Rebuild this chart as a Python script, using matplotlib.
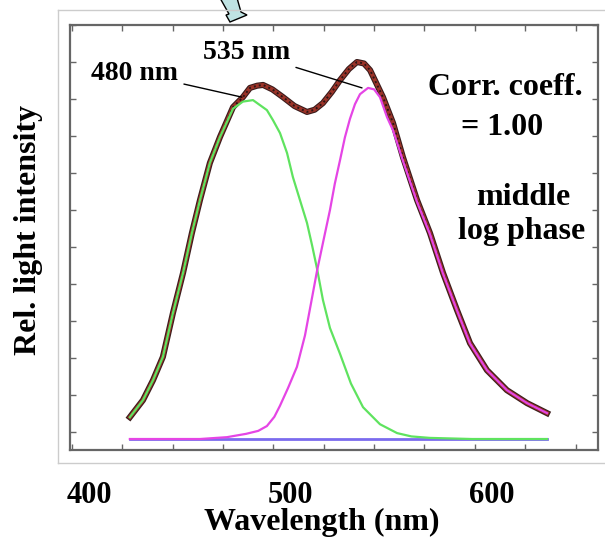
import matplotlib
matplotlib.use("Agg")
import matplotlib.pyplot as plt
import matplotlib.patheffects as pe
from matplotlib.ticker import MultipleLocator, NullFormatter
from matplotlib.patches import Polygon
from matplotlib.lines import Line2D

plt.rcParams['font.family'] = ['Liberation Serif', 'DejaVu Serif']
plt.rcParams['font.weight'] = 'bold'

# measured spectrum (nm, relative intensity)
wl_meas = [420.3, 426.8, 431.8, 436.7, 441.7, 446.7, 451.1, 455.1, 460.0, 465.0,
           471.5, 476.4, 479.9, 483.5, 486.4, 491.0, 496.3, 502.0, 508.2, 512.0,
           516.1, 520.5, 524.6, 529.0, 533.0, 536.5, 539.5, 545.9, 550.9, 555.8,
           562.8, 569.2, 575.7, 582.6, 589.1, 597.5, 607.4, 617.4, 627.3]
meas = [0.059, 0.105, 0.159, 0.222, 0.341, 0.449, 0.557, 0.646, 0.746, 0.816,
        0.897, 0.924, 0.949, 0.955, 0.957, 0.945, 0.924, 0.900, 0.884, 0.890,
        0.908, 0.938, 0.970, 1.000, 1.019, 1.015, 0.997, 0.924, 0.854, 0.762,
        0.646, 0.557, 0.449, 0.349, 0.259, 0.186, 0.132, 0.097, 0.070]

# component peaking at 480 nm
wl_green = [420.3, 426.8, 431.8, 436.7, 441.7, 446.7, 451.1, 455.1, 460.0, 465.0,
            471.5, 476.4, 481.4, 488.3, 491.3, 494.8, 498.3, 501.2, 504.7, 508.2,
            510.7, 513.2, 516.1, 519.6, 524.6, 530.0, 536.0, 544.4, 552.9, 560.0,
            569.2, 590.0, 627.3]
green = [0.059, 0.105, 0.159, 0.222, 0.341, 0.449, 0.557, 0.646, 0.746, 0.816,
         0.893, 0.912, 0.916, 0.889, 0.862, 0.827, 0.773, 0.708, 0.646, 0.584,
         0.524, 0.460, 0.376, 0.300, 0.230, 0.150, 0.086, 0.040, 0.016, 0.007,
         0.003, 0.0, 0.0]

# component peaking at 535 nm
wl_mag = [420.3, 455.1, 468.5, 478.0, 484.0, 488.3, 492.0, 494.8, 498.8, 503.2,
          507.2, 510.5, 513.2, 516.5, 519.6, 522.0, 524.6, 527.0, 529.5, 532.0,
          534.5, 538.5, 541.5, 544.4, 547.9, 550.9, 555.8, 562.8, 569.2, 575.7,
          582.6, 589.1, 597.5, 607.4, 617.4, 627.3]
magenta = [0.0, 0.0, 0.005, 0.014, 0.022, 0.035, 0.060, 0.090, 0.138, 0.195,
           0.280, 0.376, 0.455, 0.540, 0.619, 0.690, 0.754, 0.815, 0.865, 0.905,
           0.932, 0.949, 0.945, 0.924, 0.870, 0.834, 0.752, 0.641, 0.554, 0.447,
           0.348, 0.258, 0.186, 0.132, 0.097, 0.070]

# flat background level
wl_base = [420.3, 627.3]
base = [0.0, 0.0]

fig = plt.figure(figsize=(6.05, 5.4), dpi=100)
W, H = 605, 540

# edges of the pasted figure
for xs, ys in [([58, 605], [10, 10]), ([58, 605], [463, 463]), ([58, 58], [10, 463])]:
    fig.add_artist(Line2D([x / W for x in xs], [1 - y / H for y in ys],
                          color='#cccccc', lw=1))

ax = fig.add_axes([70 / W, 90 / H, 528 / W, 425 / H])

ax.plot(wl_base, base, color='#7b6bee', lw=2, zorder=2)
ax.plot(wl_meas, meas, color='#9c3328', lw=2.8, zorder=3,
        path_effects=[pe.Stroke(linewidth=4.4, foreground='#3a1c1c'), pe.Normal()])
ax.plot(wl_meas, meas, color='#2b1616', lw=1.4, ls=(0, (1, 1.6)), zorder=3.1)
ax.plot(wl_green, green, color='#5fe35f', lw=1.6, zorder=4)
ax.plot(wl_mag, magenta, color='#e545e5', lw=1.6, zorder=4)

ax.set_xlim(390.6, 652.6)
ax.set_ylim(-0.0297, 1.119)

ax.xaxis.set_major_locator(MultipleLocator(100))
ax.xaxis.set_minor_locator(MultipleLocator(25, offset=16.5))
ax.yaxis.set_major_locator(MultipleLocator(0.1, offset=0.019))
ax.yaxis.set_major_formatter(NullFormatter())
ax.tick_params(axis='x', which='major', length=0, pad=22, labelsize=22)
ax.tick_params(which='both', direction='in', top=True, right=True,
               color='#666666', width=1)
ax.tick_params(axis='y', length=4)
ax.tick_params(axis='x', which='minor', length=4)
for s in ax.spines.values():
    s.set_color('#666666')
    s.set_linewidth(1.6)

ax.set_xlabel('Wavelength (nm)', fontsize=23, fontweight='bold')
ax.xaxis.set_label_coords(0.477, -0.137)
ax.set_ylabel('Rel. light intensity', fontsize=23, fontweight='bold')
ax.yaxis.set_label_coords(-0.051, 0.518)

ax.annotate('480 nm', xy=(475.9, 0.924), xytext=(0.123, 0.887),
            textcoords='axes fraction', ha='center', va='center', fontsize=20,
            arrowprops=dict(arrowstyle='-', color='black', lw=1, shrinkA=2, shrinkB=0))
ax.annotate('535 nm', xy=(535.5, 0.949), xytext=(0.335, 0.936),
            textcoords='axes fraction', ha='center', va='center', fontsize=20,
            arrowprops=dict(arrowstyle='-', color='black', lw=1, shrinkA=2, shrinkB=0))

ax.text(0.824, 0.854, 'Corr. coeff.', transform=ax.transAxes, ha='center', va='center', fontsize=23)
ax.text(0.818, 0.758, '= 1.00', transform=ax.transAxes, ha='center', va='center', fontsize=23)
ax.text(0.858, 0.595, 'middle', transform=ax.transAxes, ha='center', va='center', fontsize=23)
ax.text(0.856, 0.513, 'log phase', transform=ax.transAxes, ha='center', va='center', fontsize=23)

# light blue pointer at the top
arrow_px = [(220, -2), (229, 14), (226, 15), (230, 22), (247, 15), (241, 12), (237, -2)]
fig.add_artist(Polygon([(x / W, 1 - y / H) for x, y in arrow_px], closed=True,
                       facecolor='#bfe3e3', edgecolor='black', lw=1))

fig.savefig('out.png', dpi=100, facecolor='white')
